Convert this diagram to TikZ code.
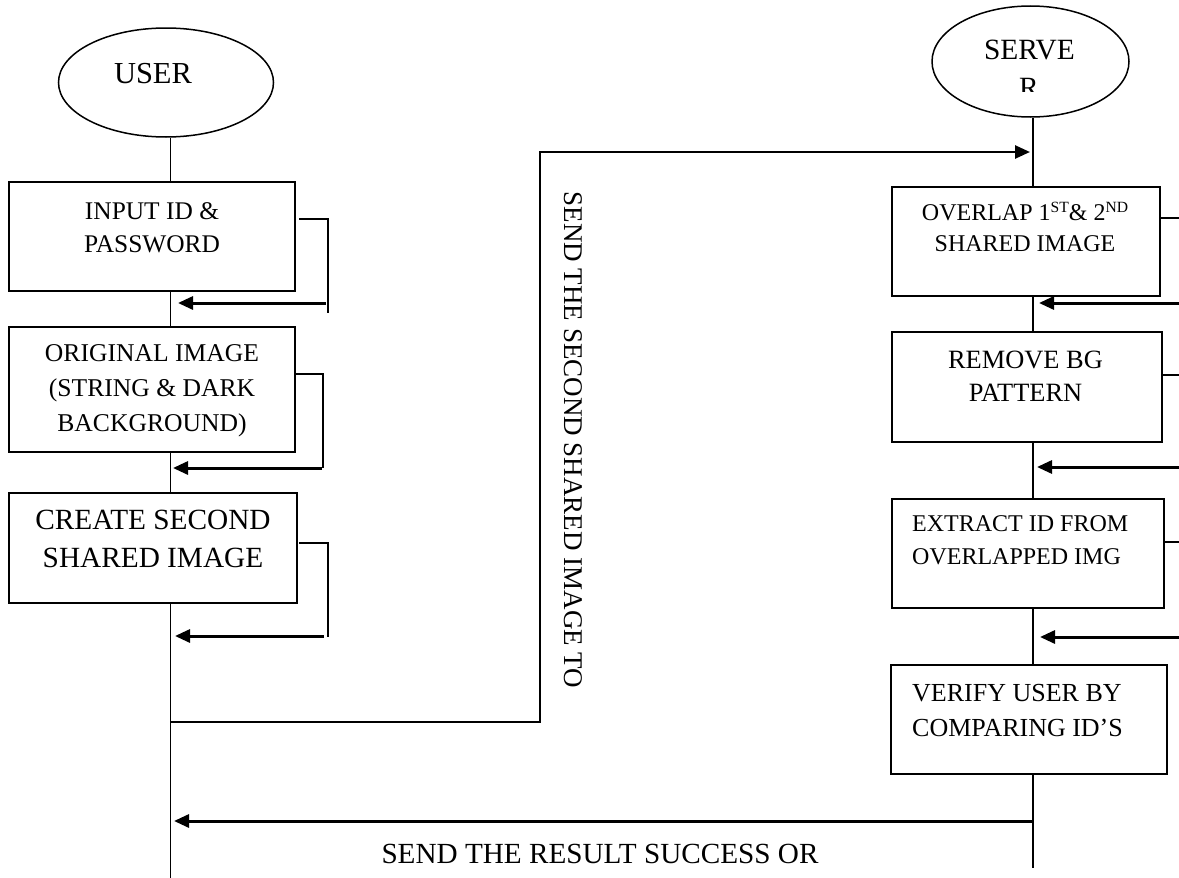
\documentclass[tikz,border=0pt]{standalone}
\usepackage{fontspec}
\setmainfont{Liberation Serif}
\usetikzlibrary{shapes.geometric,arrows.meta}
\newcommand\myfs[1]{\fontsize{#1}{#1}\selectfont}
\newcommand\mysup[1]{\raisebox{0.3em}{\fontsize{15.6}{16}\selectfont #1}}
\begin{document}
\begin{tikzpicture}[x=1pt,y=-1pt,
  box/.style={draw, line width=1.6pt, rectangle, inner sep=0pt},
  oval/.style={draw, line width=1.5pt, ellipse, inner sep=0pt},
  vline/.style={line width=1.5pt},
  fb/.style={line width=1.6pt},
  arr/.style={line width=3pt, -{Triangle[length=15pt,width=13pt]}},
  bl/.style={inner sep=0pt, anchor=base},
  blw/.style={inner sep=0pt, anchor=base west},
]
\useasboundingbox (0,0) rectangle (1179,878);

% ovals
\node[oval, minimum width=215pt, minimum height=109pt] (user) at (166,82.5) {};
\node[bl] (usertxt) at (153,83) {\myfs{30.5}USER};
\node[oval, minimum width=197pt, minimum height=111pt] (server) at (1030.5,61.5) {};
\node[bl] (servetxt) at (1029.5,59) {\myfs{29.4}SERVE};
\begin{scope}
  \clip (990,40) rectangle (1070,91);
  \node[bl] (servr) at (1029,97.5) {\myfs{29.4}R};
\end{scope}

% user boxes
\node[box, minimum width=286pt, minimum height=109pt] (b1) at (152,236.5) {};
\node[bl] (b1l1) at (152,219) {\myfs{25.4}INPUT ID \&};
\node[bl] (b1l2) at (152,252) {\myfs{25.4}PASSWORD};

\node[box, minimum width=286pt, minimum height=125pt] (b2) at (152,389.5) {};
\node[bl] (b2l1) at (152,361) {\myfs{25.6}ORIGINAL IMAGE};
\node[bl] (b2l2) at (152,396) {\myfs{25.6}(STRING \& DARK};
\node[bl] (b2l3) at (152,431) {\myfs{25.6}BACKGROUND)};

\node[box, minimum width=288pt, minimum height=110pt] (b3) at (153,548) {};
\node[bl] (b3l1) at (153,529.5) {\myfs{29.3}CREATE SECOND};
\node[bl] (b3l2) at (153,567.5) {\myfs{29.3}SHARED IMAGE};

% server boxes
\node[box, minimum width=268pt, minimum height=109pt] (s1) at (1026,241.5) {};
\node[bl] (s1l1) at (1025,220) {\myfs{24}OVERLAP 1\mysup{ST}\& 2\mysup{ND}};
\node[bl] (s1l2) at (1025,251) {\myfs{24}SHARED IMAGE};

\node[box, minimum width=270pt, minimum height=110pt] (s2) at (1027,387) {};
\node[bl] (s2l1) at (1025.5,368.5) {\myfs{26.4}REMOVE BG};
\node[bl] (s2l2) at (1025.5,401.5) {\myfs{26.4}PATTERN};

\node[box, minimum width=272pt, minimum height=109pt] (s3) at (1028,553.5) {};
\node[blw] (s3l1) at (912,531) {\myfs{24}EXTRACT ID FROM};
\node[blw] (s3l2) at (912,564) {\myfs{24}OVERLAPPED IMG};

\node[box, minimum width=276pt, minimum height=109pt] (s4) at (1029,719.5) {};
\node[blw] (s4l1) at (912,701) {\myfs{26}VERIFY USER BY};
\node[blw] (s4l2) at (912,736) {\myfs{26}COMPARING ID’S};

% message labels
\node[rotate=-90, inner sep=0pt] (sendtxt) at (573,440) {\myfs{27}SEND THE SECOND SHARED IMAGE TO};
\node[bl] (restxt) at (600,863) {\myfs{29.2}SEND THE RESULT SUCCESS OR};

% lifeline coordinates
\coordinate (ux) at (170.5,0);
\coordinate (sx) at (1033,0);
\coordinate (uend) at (170.5,878);
\coordinate (send) at (1033,868);

% user lifeline
\draw[vline] (ux |- user.south) -- (ux |- b1.north);
\draw[vline] (ux |- b1.south) -- (ux |- b2.north);
\draw[vline] (ux |- b2.south) -- (ux |- b3.north);
\draw[vline] (ux |- b3.south) -- (uend);

% server lifeline
\draw[vline] (sx |- server.south) -- (sx |- s1.north);
\draw[vline] (sx |- s1.south) -- (sx |- s2.north);
\draw[vline] (sx |- s2.south) -- (sx |- s3.north);
\draw[vline] (sx |- s3.south) -- (sx |- s4.north);
\draw[vline] (sx |- s4.south) -- (send);

% user feedback loops
\coordinate (f1a) at (299,219); \coordinate (f1b) at (327,219);
\coordinate (f1c) at (328,218.2); \coordinate (f1d) at (328,313);
\coordinate (f1e) at (326,303); \coordinate (f1t) at (178,303);
\draw[fb] (f1a) -- (f1b);
\draw[fb] (f1c) -- (f1d);
\draw[arr] (f1e) -- (f1t);

\coordinate (f2a) at (295,374); \coordinate (f2b) at (323,374);
\coordinate (f2c) at (323,468); \coordinate (f2e) at (322,468); \coordinate (f2t) at (173,468);
\draw[fb] (f2a) -- (f2b) -- (f2c);
\draw[arr] (f2e) -- (f2t);

\coordinate (f3a) at (299,543); \coordinate (f3b) at (327,543);
\coordinate (f3c) at (328,542.2); \coordinate (f3d) at (328,637);
\coordinate (f3e) at (324,636); \coordinate (f3t) at (175,636);
\draw[fb] (f3a) -- (f3b);
\draw[fb] (f3c) -- (f3d);
\draw[arr] (f3e) -- (f3t);

% server feedback lines
\coordinate (g1a) at (1179,218); \coordinate (g1e) at (1179,303); \coordinate (g1t) at (1039,303);
\draw[fb] (s1.east |- g1a) -- (g1a);
\draw[arr] (g1e) -- (g1t);
\coordinate (g2a) at (1179,375); \coordinate (g2e) at (1179,467); \coordinate (g2t) at (1037,467);
\draw[fb] (s2.east |- g2a) -- (g2a);
\draw[arr] (g2e) -- (g2t);
\coordinate (g3a) at (1179,542); \coordinate (g3e) at (1179,637); \coordinate (g3t) at (1040,637);
\draw[fb] (s3.east |- g3a) -- (g3a);
\draw[arr] (g3e) -- (g3t);

% send second share to server
\coordinate (m1) at (540,722);
\coordinate (m2) at (540,152);
\coordinate (m3) at (1030,152);
\draw[line width=1.8pt] (ux |- m1) -- (m1) -- (m2);
\draw[line width=2.6pt, -{Triangle[length=15pt,width=13pt]}] ([xshift=-0.9pt]m2) -- (m3);

% result back to user
\coordinate (r1) at (1033,821);
\coordinate (r2) at (174,821);
\draw[arr] (r1) -- (r2);
\end{tikzpicture}
\end{document}
